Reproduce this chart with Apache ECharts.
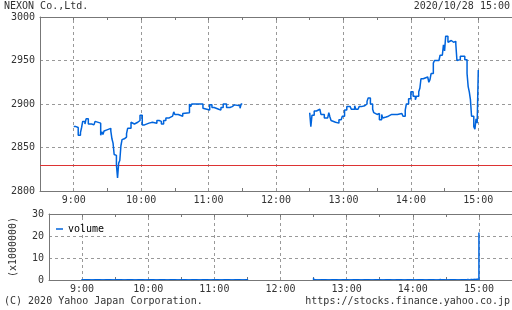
<!DOCTYPE html>
<html><head><meta charset="utf-8">
<script src="https://cdn.jsdelivr.net/npm/echarts@6/dist/echarts.min.js"></script>
<style>html,body{margin:0;padding:0;background:#fff}#c{width:512px;height:310px}</style>
</head><body><div id="c"></div>
<script>
// minutes since midnight
const priceTimesAM = [540,542,544,546,547,548,550,551,553,556,558,559,560,564,565,566,567,568,569,573,574,575,576,577,578,579,580,581,582,583,584,585,587,588,591,592,594,595,597,599,601,603,607,610,614,616,618,620,622,625,628,629,630,633,637,638,643,644,645,655,656,661,663,665,666,669,671,673,676,679,681,683,688,689,690];
const priceAM = [2874,2873,2864,2867,2873,2880,2877,2883,2877,2876,2874,2880,2878,2864,2868,2865,2869,2870,2872,2869,2860,2855,2842,2841,2830,2815,2832,2835,2852,2859,2860,2862,2866,2872,2879,2877,2878,2879,2881,2887,2876,2878,2879,2878,2881,2880,2877,2881,2884,2886,2888,2891,2888,2886,2889,2890,2900,2897,2900,2895,2893,2899,2896,2898,2894,2893,2896,2900,2896,2897,2899,2898,2895,2900,2900];
const priceTimesPM = [750,751,752,754,756,759,760,763,766,767,768,769,770,773,774,776,778,779,781,783,786,787,790,791,793,794,796,797,799,801,802,804,806,807,808,810,812,814,815,816,818,820,823,824,828,832,833,835,836,838,840,842,844,845,847,848,849,851,855,856,857,858,860,861,865,866,868,869,870,871,873,874,876,878,880,881,882,884,888,890,891,892,893,894,896,897,898,899,900];
const pricePM = [2890,2874,2887,2892,2894,2892,2888,2884,2883,2890,2885,2881,2879,2881,2878,2882,2881,2886,2893,2897,2899,2894,2898,2894,2896,2897,2895,2898,2900,2903,2907,2900,2894,2890,2888,2889,2882,2888,2884,2885,2886,2888,2886,2888,2889,2888,2886,2893,2900,2906,2914,2909,2905,2909,2914,2918,2929,2931,2931,2925,2928,2935,2947,2950,2950,2956,2958,2968,2961,2978,2971,2973,2971,2972,2969,2950,2951,2955,2951,2935,2920,2914,2905,2886,2874,2871,2883,2878,2939];
const prevClose = 2830;

const volStartAM = 540, volStartPM = 750;
const volAM = [
0.45,0.18,0.12,0.10,0.09,0.11,0.08,0.10,0.12,0.09,
0.08,0.10,0.07,0.06,0.08,0.07,0.06,0.09,0.08,0.07,
0.10,0.08,0.06,0.07,0.09,0.08,0.07,0.10,0.09,0.08,
0.11,0.09,0.12,0.10,0.14,0.13,0.16,0.20,0.25,0.22,
0.15,0.18,0.14,0.12,0.10,0.11,0.09,0.08,0.10,0.09,
0.08,0.07,0.09,0.08,0.07,0.06,0.08,0.07,0.06,0.07,
0.09,0.08,0.06,0.05,0.07,0.06,0.05,0.06,0.07,0.06,
0.05,0.06,0.05,0.07,0.06,0.05,0.06,0.05,0.04,0.06,
0.05,0.04,0.06,0.05,0.04,0.05,0.06,0.05,0.04,0.05,
0.06,0.05,0.04,0.05,0.06,0.04,0.05,0.06,0.07,0.05,
0.04,0.05,0.06,0.04,0.05,0.04,0.03,0.05,0.04,0.05,
0.06,0.04,0.05,0.04,0.03,0.04,0.05,0.04,0.03,0.04,
0.05,0.04,0.03,0.04,0.05,0.04,0.03,0.04,0.05,0.04,
0.03,0.04,0.05,0.04,0.03,0.04,0.05,0.06,0.04,0.05,
0.04,0.05,0.06,0.05,0.04,0.05,0.06,0.05,0.07,0.08,
0.12];
const volPM = [
1.00,0.30,0.15,0.10,0.08,0.09,0.07,0.06,0.08,0.07,
0.06,0.05,0.07,0.06,0.05,0.06,0.05,0.04,0.06,0.05,
0.04,0.05,0.06,0.05,0.04,0.05,0.06,0.05,0.04,0.05,
0.06,0.05,0.04,0.05,0.04,0.03,0.05,0.04,0.05,0.06,
0.05,0.04,0.05,0.04,0.03,0.04,0.05,0.04,0.05,0.04,
0.05,0.06,0.05,0.04,0.05,0.06,0.05,0.04,0.05,0.06,
0.05,0.04,0.05,0.06,0.05,0.04,0.05,0.04,0.05,0.06,
0.05,0.04,0.05,0.06,0.05,0.06,0.07,0.06,0.05,0.06,
0.07,0.06,0.08,0.10,0.12,0.10,0.09,0.11,0.10,0.12,
0.14,0.12,0.10,0.11,0.13,0.12,0.11,0.10,0.12,0.11,
0.13,0.12,0.14,0.13,0.12,0.15,0.14,0.13,0.15,0.16,
0.14,0.15,0.13,0.14,0.16,0.55,0.20,0.18,0.16,0.15,
0.18,0.20,0.17,0.19,0.22,0.20,0.18,0.45,0.25,0.22,
0.50,0.30,0.28,0.25,0.30,0.32,0.28,0.30,0.35,0.30,
0.55,0.40,0.45,0.60,0.50,0.55,0.60,0.58,0.62,0.65,
21.6];

const hourTicks = [540,600,660,720,780,840,900];
const titleText = 'NEXON Co.,Ltd.';
const dateText = '2020/10/28 15:00';
const footLeft = '(C) 2020 Yahoo Japan Corporation.';
const footRight = 'https://stocks.finance.yahoo.co.jp';

const FONT = 'DejaVu Sans Mono';
const TXT = '#333';
const AX = '#777';
const GRID = '#999';
const BLUE = '#0064dc';

const amData = priceTimesAM.map((t,i)=>[t,priceAM[i]]);
const pmData = priceTimesPM.map((t,i)=>[t,pricePM[i]]);
const volData = volAM.map((v,i)=>[volStartAM+i,v]).concat(volPM.map((v,i)=>[volStartPM+i,v]));

function fmtTime(v){ if (v % 60 !== 0) return ''; return Math.floor(v/60)+':00'; }

function xAxes(gridIndex){
  return [
    {type:'value', gridIndex, position:'bottom', min:510, max:930, interval:30,
     axisLine:{show:true,lineStyle:{color:AX,width:1}},
     axisTick:{show:true,inside:true,length:3,lineStyle:{color:AX}},
     axisLabel:{formatter:fmtTime,color:TXT,fontFamily:FONT,fontSize:10,margin:4,showMinLabel:false,showMaxLabel:false},
     splitLine:{show:false}},
    {type:'value', gridIndex, position:'top', min:510, max:930, interval:30,
     axisLine:{show:true,lineStyle:{color:AX,width:1}},
     axisTick:{show:true,inside:true,length:3,lineStyle:{color:AX}},
     axisLabel:{show:false}, splitLine:{show:false}}
  ];
}

const dashStyle = {color:GRID,type:[3,3],width:1};
const hourLines = hourTicks.map(h=>({xAxis:h,lineStyle:dashStyle}));
const plainNum = v => String(v);

const option = {
  animation:false,
  backgroundColor:'#fff',
  grid:[
    {left:40,right:0,top:17,bottom:119},
    {left:40,right:0,top:214,bottom:30}
  ],
  xAxis: xAxes(0).concat(xAxes(1)),
  yAxis:[
    {type:'value',gridIndex:0,min:2800,max:3000,interval:50,
     axisLine:{show:true,lineStyle:{color:AX}},axisTick:{show:false},
     axisLabel:{color:TXT,fontFamily:FONT,fontSize:10,margin:5,formatter:plainNum},
     splitLine:{show:true,lineStyle:dashStyle}},
    {type:'value',gridIndex:1,min:0,max:30,interval:10,
     axisLine:{show:true,lineStyle:{color:AX}},axisTick:{show:false},
     axisLabel:{color:TXT,fontFamily:FONT,fontSize:10,margin:5,formatter:plainNum},
     splitLine:{show:true,lineStyle:dashStyle},
     name:'(x1000000)',nameLocation:'middle',nameRotate:90,nameGap:31,
     nameTextStyle:{color:TXT,fontFamily:FONT,fontSize:10}}
  ],
  legend:{data:['volume'],left:51,top:219,icon:'rect',itemWidth:7,itemHeight:1.5,
    textStyle:{color:'#000',fontFamily:FONT,fontSize:10,padding:[0,0,0,0]},selectedMode:false},
  graphic:[
    {type:'text',left:4,top:1,style:{text:titleText,fill:TXT,font:'10px "'+FONT+'"'}},
    {type:'text',right:2,top:1,style:{text:dateText,fill:TXT,font:'10px "'+FONT+'"'}},
    {type:'text',left:4,top:296,style:{text:footLeft,fill:TXT,font:'10px "'+FONT+'"'}},
    {type:'text',right:2,top:296,style:{text:footRight,fill:TXT,font:'10px "'+FONT+'"'}}
  ],
  series:[
    {type:'line',name:'grid0',xAxisIndex:0,yAxisIndex:0,data:[],z:1,silent:true,
     markLine:{silent:true,symbol:'none',animation:false,label:{show:false},z:1,
       data:hourLines.concat([{yAxis:prevClose,lineStyle:{color:'#d33',type:'solid',width:1}}])}},
    {type:'line',name:'grid1',xAxisIndex:2,yAxisIndex:1,data:[],z:1,silent:true,
     markLine:{silent:true,symbol:'none',animation:false,label:{show:false},z:1,data:hourLines}},
    {type:'line',name:'priceAM',xAxisIndex:0,yAxisIndex:0,data:amData,step:'end',
     showSymbol:false,symbol:'none',lineStyle:{color:BLUE,width:1.5},z:10},
    {type:'line',name:'pricePM',xAxisIndex:0,yAxisIndex:0,data:pmData,step:'end',
     showSymbol:false,symbol:'none',lineStyle:{color:BLUE,width:1.5},z:10},
    {type:'bar',name:'volume',xAxisIndex:2,yAxisIndex:1,data:volData,barWidth:1.5,barMinHeight:1,
     itemStyle:{color:BLUE},z:10}
  ]
};
const chart = echarts.init(document.getElementById('c'),null,{renderer:'canvas'});
chart.setOption(option);
</script>
</body></html>
